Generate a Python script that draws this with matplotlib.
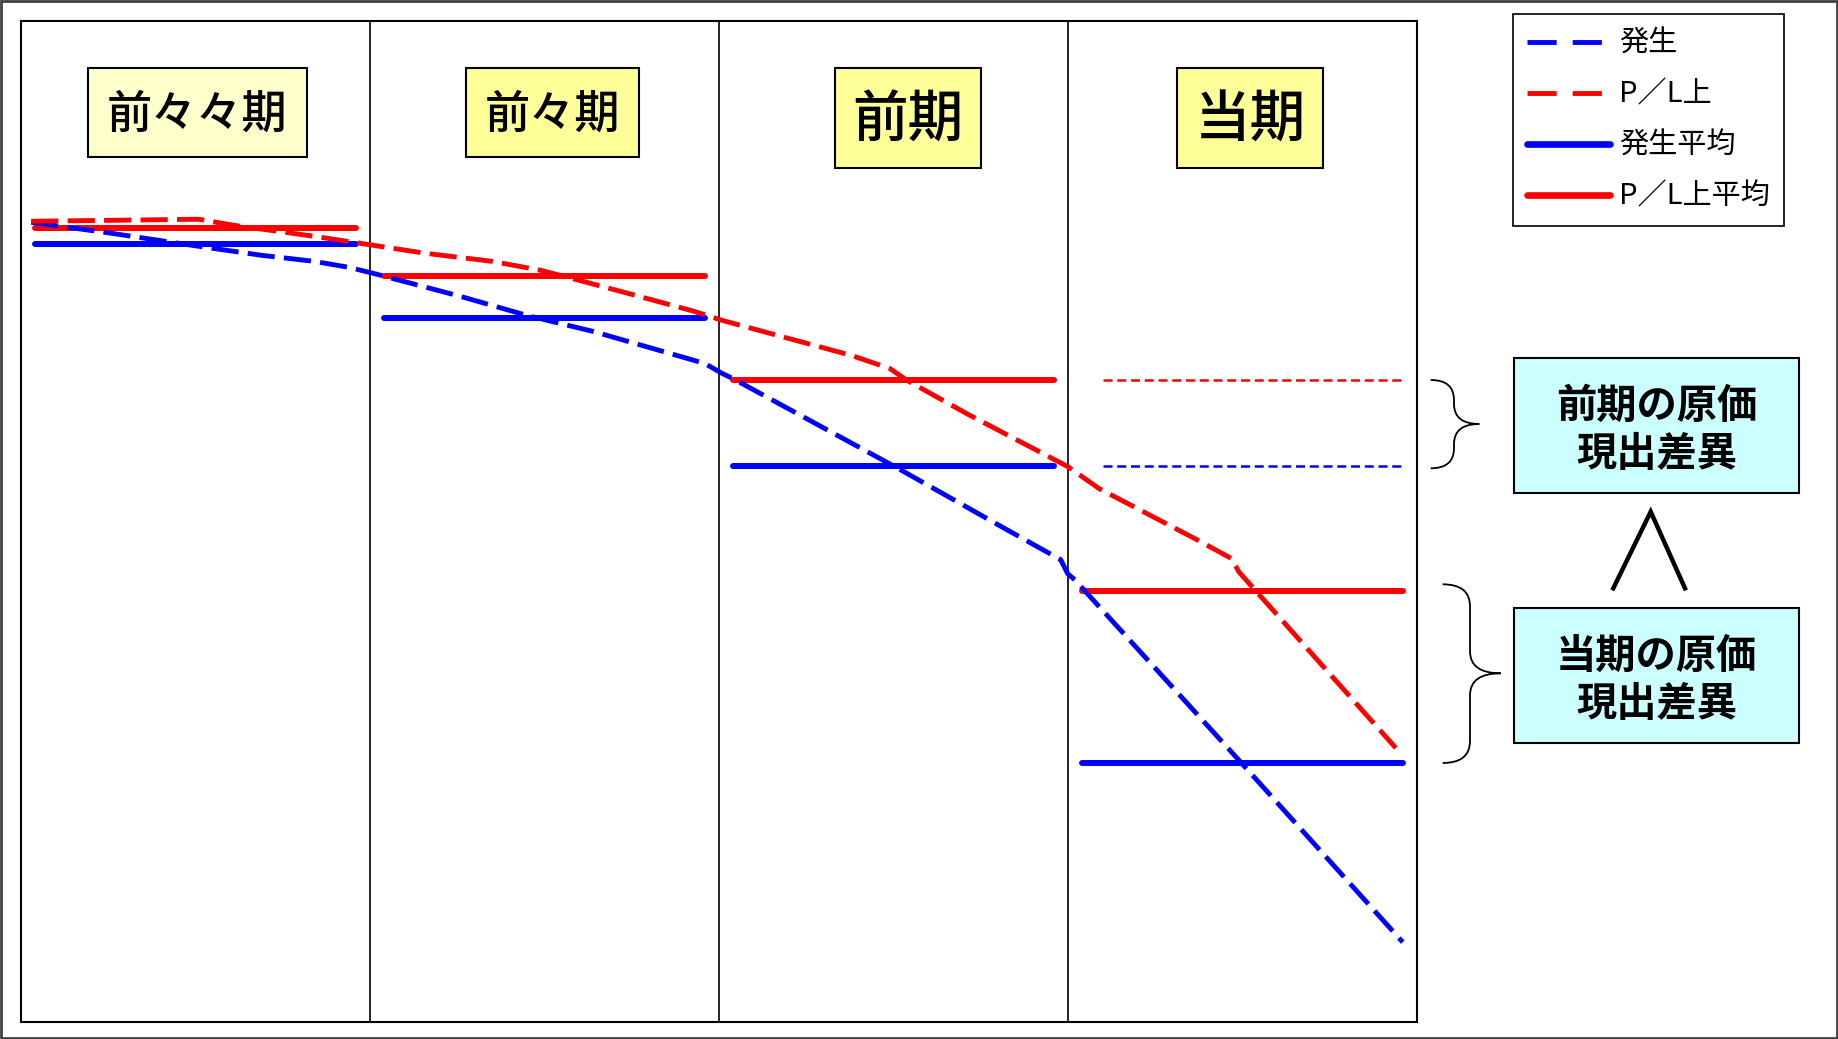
import matplotlib
matplotlib.use("Agg")
import matplotlib.pyplot as plt
from matplotlib.lines import Line2D
from matplotlib.patches import Rectangle, PathPatch
from matplotlib.path import Path

plt.rcParams["font.family"] = ["Noto Sans CJK JP", "DejaVu Sans"]

# --- data -------------------------------------------------------------
PERIODS = ["前々々期", "前々期", "前期", "当期"]

# 発生 (dashed blue) trace, x in period units, y in cost units
HASSEI_X = [0.03, 0.26, 0.51, 0.69, 0.84, 0.94, 1.01, 1.26, 1.45, 1.64, 1.88,
            1.96, 2.01, 2.04, 2.23, 2.52, 2.81, 2.98, 3.00, 3.02, 3.49, 3.96]
HASSEI_Y = [79.9, 78.8, 77.5, 76.6, 76.0, 75.4, 74.8, 72.5, 70.6, 69.0, 66.6,
            65.8, 64.8, 64.3, 60.7, 55.2, 49.5, 46.2, 44.8, 44.2, 26.2, 8.0]

# P/L上 (dashed red) trace
PL_X = [0.03, 0.51, 0.61, 0.84, 1.01, 1.16, 1.35, 1.49, 1.60, 1.74, 1.93, 2.01,
        2.20, 2.38, 2.49, 2.54, 2.71, 3.00, 3.09, 3.37, 3.47, 3.49, 3.94]
PL_Y = [80.0, 80.2, 79.6, 78.5, 77.6, 76.8, 76.0, 75.1, 74.1, 72.8, 71.0, 70.1,
        68.3, 66.6, 65.3, 64.1, 60.8, 55.5, 53.3, 48.2, 46.3, 45.0, 27.4]

# period averages
HASSEI_AVG = [77.7, 70.3, 55.6, 25.9]
PL_AVG = [79.3, 74.5, 64.1, 43.1]

LEGEND_LABELS = ["発生", "P／L上", "発生平均", "P／L上平均"]
DIFF_LABELS = [("前期の原価", "現出差異"), ("当期の原価", "現出差異")]

BLUE = "#0000FF"
RED = "#FF0000"

W, H = 1838, 1039


def fx(x):
    return x / W


def fy(y):
    return 1 - y / H


fig = plt.figure(figsize=(W / 100, H / 100), dpi=100, facecolor="white")

ax = fig.add_axes([fx(20.7), fy(1022.3), fx(1416.7) - fx(20.7), fy(21) - fy(1022.3)])
ax.set_xlim(0, 4)
ax.set_ylim(0, 100)
ax.set_xticks([])
ax.set_yticks([])
for sp in ax.spines.values():
    sp.set_linewidth(1.5)
for d in range(1, len(PERIODS)):
    ax.axvline(d, color="black", lw=1.2)

# averages per period
for i, (hv, pv) in enumerate(zip(HASSEI_AVG, PL_AVG)):
    ax.plot([i + 0.04, i + 0.96], [pv, pv], color=RED, lw=4.3,
            solid_capstyle="round")
    ax.plot([i + 0.04, i + 0.96], [hv, hv], color=BLUE, lw=4.3,
            solid_capstyle="round")

# previous period averages carried into current period
for val, col in [(PL_AVG[2], RED), (HASSEI_AVG[2], BLUE)]:
    ln, = ax.plot([3.10, 3.955], [val, val], color=col, lw=1.8)
    ln.set_dashes((3.6, 1.9))

# actual traces
l_h, = ax.plot(HASSEI_X, HASSEI_Y, color=BLUE, lw=3.5)
l_h.set_dashes((5.6, 1.9))
l_p, = ax.plot(PL_X, PL_Y, color=RED, lw=3.5)
l_p.set_dashes((5.6, 1.9))

# period title boxes (pixel boxes, centre of text)
title_boxes = [
    (87.6, 306.8, 68.3, 156.7, "#FFFFCC", 32.5, 114),
    (466.4, 639.0, 68.3, 156.7, "#FFFF99", 32.5, 114),
    (834.6, 981.0, 68.3, 168.3, "#FFFF99", 40, 121),
    (1176.8, 1323.2, 68.3, 168.3, "#FFFF99", 40, 121),
]
for name, (x0, x1, y0, y1, fc, fs, ty) in zip(PERIODS, title_boxes):
    fig.patches.append(Rectangle((fx(x0), fy(y1)), fx(x1) - fx(x0), fy(y0) - fy(y1),
                                 transform=fig.transFigure, facecolor=fc,
                                 edgecolor="black", lw=1.5))
    fig.text(fx((x0 + x1) / 2), fy(ty), name, fontsize=fs, ha="center",
             va="center", fontweight="medium", color="black")

# variance boxes on the right
for (l1, l2), (y0, y1) in zip(DIFF_LABELS, [(358.3, 492.7), (607.7, 742.7)]):
    x0, x1 = 1514.3, 1799.3
    fig.patches.append(Rectangle((fx(x0), fy(y1)), fx(x1) - fx(x0), fy(y0) - fy(y1),
                                 transform=fig.transFigure, facecolor="#CCFFFF",
                                 edgecolor="black", lw=1.5))
    cy = (y0 + y1) / 2
    fig.text(fx((x0 + x1) / 2), fy(cy - 19), l1, fontsize=29, ha="center",
             va="center", fontweight="bold")
    fig.text(fx((x0 + x1) / 2), fy(cy + 29), l2, fontsize=29, ha="center",
             va="center", fontweight="bold")

# wedge between the boxes
fig.add_artist(Line2D([fx(1613.3), fx(1650.7), fx(1685)],
                      [fy(588.3), fy(511.7), fy(588.3)],
                      transform=fig.transFigure, color="black", lw=3.2,
                      solid_joinstyle="miter"))


def brace(xl, xm, xr, ya, yb, yt, r):
    verts = [
        (xl, ya), (xm, ya), (xm, ya + r),
        (xm, yt - r),
        (xm, yt), (xr, yt),
        (xm, yt), (xm, yt + r),
        (xm, yb - r),
        (xm, yb), (xl, yb),
    ]
    codes = [Path.MOVETO, Path.CURVE3, Path.CURVE3, Path.LINETO,
             Path.CURVE3, Path.CURVE3, Path.CURVE3, Path.CURVE3,
             Path.LINETO, Path.CURVE3, Path.CURVE3]
    verts = [(fx(x), fy(y)) for x, y in verts]
    return PathPatch(Path(verts, codes), transform=fig.transFigure,
                     facecolor="none", edgecolor="black", lw=1.3)


fig.patches.append(brace(1430.7, 1454, 1479.3, 380, 468.3, 424, 20))
fig.patches.append(brace(1442.7, 1470, 1500.7, 584.3, 763, 673.3, 22))

# legend
h1 = Line2D([], [], color=BLUE, lw=3.5)
h1.set_dashes((6.0, 3.3))
h2 = Line2D([], [], color=RED, lw=3.5)
h2.set_dashes((6.0, 3.3))
h3 = Line2D([], [], color=BLUE, lw=4.8, solid_capstyle="round")
h4 = Line2D([], [], color=RED, lw=4.8, solid_capstyle="round")
leg = fig.legend([h1, h2, h3, h4], LEGEND_LABELS, loc="upper left",
                 bbox_to_anchor=(fx(1512.7), fy(14.3)), borderaxespad=0,
                 fontsize=21, handlelength=2.85, handletextpad=0.29,
                 labelspacing=0.72, borderpad=0.5, fancybox=False,
                 framealpha=1, edgecolor="black")
leg.get_frame().set_linewidth(1.2)

# outer frame
fig.patches.append(Rectangle((0.0005, 0.001), 0.999, 0.998, transform=fig.transFigure,
                             fill=False, edgecolor="#404040", lw=2))

fig.savefig("out.png", dpi=100, facecolor="white")
